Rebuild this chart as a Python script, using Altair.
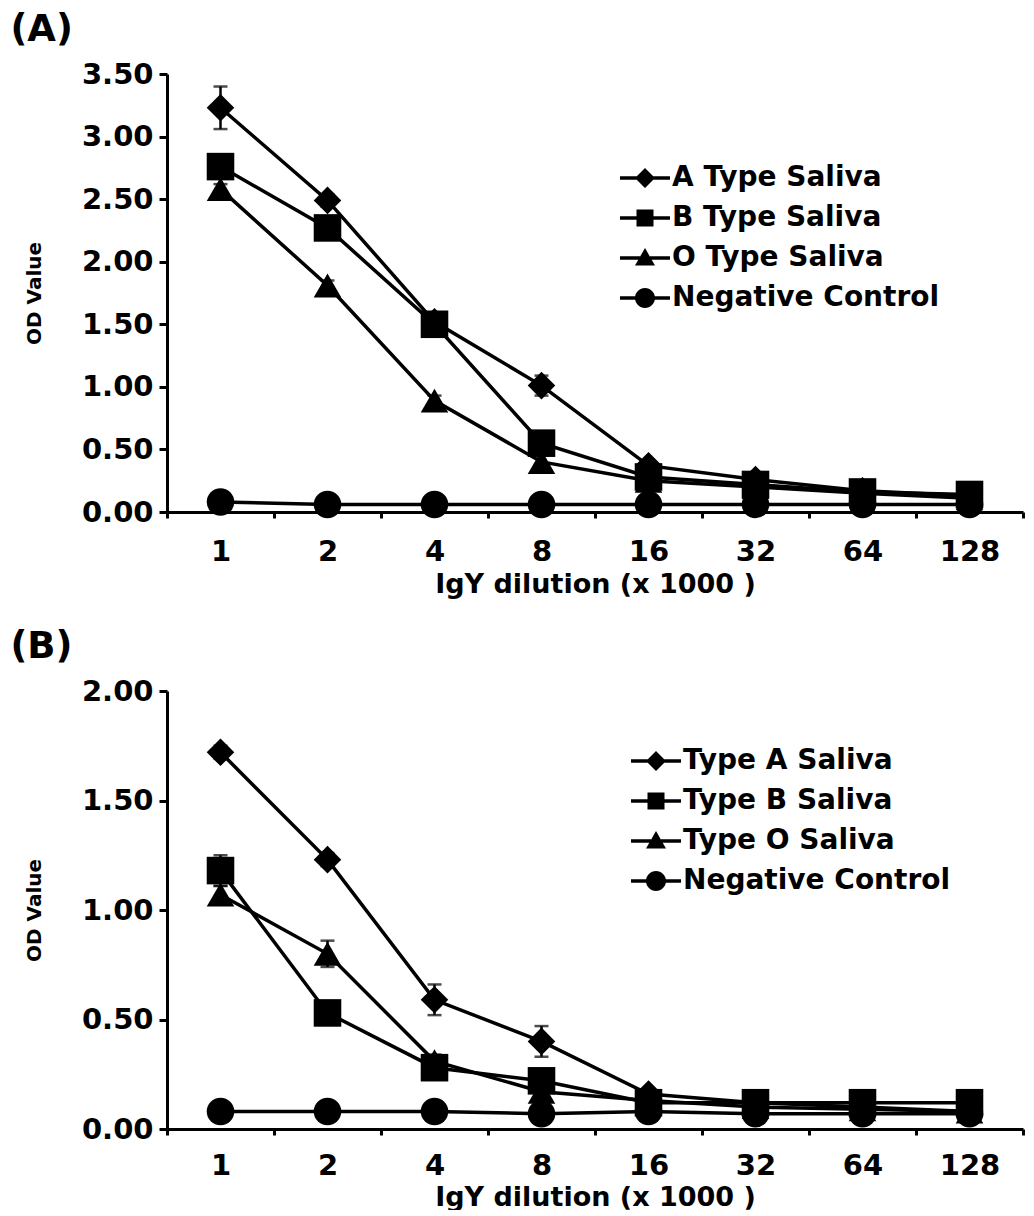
import altair as alt
import pandas as pd

dilutions = ["1", "2", "4", "8", "16", "32", "64", "128"]

# Panel A
a_names = ["A Type Saliva", "B Type Saliva", "O Type Saliva", "Negative Control"]
a_typeA = [3.23, 2.49, 1.52, 1.01, 0.37, 0.26, 0.17, 0.13]
a_typeB = [2.76, 2.27, 1.50, 0.55, 0.28, 0.22, 0.16, 0.14]
a_typeO = [2.58, 1.81, 0.89, 0.40, 0.25, 0.20, 0.15, 0.11]
a_neg = [0.08, 0.06, 0.06, 0.06, 0.06, 0.06, 0.06, 0.06]
a_errA = [0.17, 0.05, 0.04, 0.08, 0.03, 0.02, 0.02, 0.02]
a_errB = [0.04, 0.04, 0.03, 0.03, 0.02, 0.02, 0.02, 0.02]
a_errO = [0.04, 0.04, 0.04, 0.05, 0.02, 0.02, 0.02, 0.02]
a_errN = [0.01, 0.01, 0.01, 0.01, 0.01, 0.01, 0.01, 0.01]

# Panel B
b_names = ["Type A Saliva", "Type B Saliva", "Type O Saliva", "Negative Control"]
b_typeA = [1.72, 1.23, 0.59, 0.40, 0.16, 0.12, 0.10, 0.08]
b_typeB = [1.18, 0.53, 0.28, 0.22, 0.12, 0.12, 0.12, 0.12]
b_typeO = [1.07, 0.80, 0.31, 0.17, 0.13, 0.10, 0.09, 0.08]
b_neg = [0.08, 0.08, 0.08, 0.07, 0.08, 0.07, 0.07, 0.07]
b_errA = [0.03, 0.03, 0.07, 0.07, 0.02, 0.01, 0.01, 0.01]
b_errB = [0.07, 0.03, 0.03, 0.03, 0.01, 0.01, 0.01, 0.01]
b_errO = [0.04, 0.06, 0.03, 0.03, 0.01, 0.01, 0.01, 0.01]
b_errN = [0.01, 0.01, 0.01, 0.01, 0.01, 0.01, 0.01, 0.01]

a_ticks = [0, 0.5, 1.0, 1.5, 2.0, 2.5, 3.0, 3.5]
b_ticks = [0, 0.5, 1.0, 1.5, 2.0]

FONT = "DejaVu Sans"

plot_shapes = ["diamond", "square", "triangle-up", "circle"]
bar_l = "M-2.5,-0.18H-0.5V0.18H-2.5Z"
bar_r = "M0.5,-0.18H2.5V0.18H0.5Z"
legend_shapes = [
    bar_l + bar_r + "M-1,0L0,-1L1,0L0,1Z",
    bar_l + bar_r + "M-0.85,-0.85H0.85V0.85H-0.85Z",
    bar_l + bar_r + "M0,-1L1,0.75H-1Z",
    bar_l + bar_r + "M-1,0A1,1,0,1,1,1,0A1,1,0,1,1,-1,0Z",
]


def build_df(names, vals, errs):
    rows = []
    for name, v, e in zip(names, vals, errs):
        for d, vv, ee in zip(dilutions, v, e):
            rows.append({"series": name, "leg": name, "dil": d, "val": vv,
                         "lo": vv - ee, "hi": vv + ee})
    return pd.DataFrame(rows)


def panel(df, names, title, ymax, ticks, lx, ly, label_pad, title_pad):
    xscale = alt.Scale(type="band", paddingInner=0, paddingOuter=0)
    xaxis = alt.Axis(title="IgY dilution (x 1000 )", labelAngle=0, tickBand="extent",
                     tickSize=6, tickWidth=3, labelPadding=label_pad, titlePadding=title_pad,
                     labelFontSize=29, titleFontSize=27, domainWidth=3)
    yscale = alt.Scale(domain=[0, ymax], nice=False)
    yaxis = alt.Axis(title="OD Value", values=ticks, format=".2f", tickSize=8, tickWidth=3,
                     labelPadding=6, titlePadding=37, labelFontSize=29, titleFontSize=20,
                     domainWidth=3)
    x = alt.X("dil:O", sort=dilutions, scale=xscale, axis=xaxis)

    base = alt.Chart(df)
    lines = base.mark_line(color="black", strokeWidth=3.5).encode(
        x=x, y=alt.Y("val:Q", scale=yscale, axis=yaxis), detail="series:N")
    rules = base.mark_rule(color="black", strokeWidth=2.5).encode(
        x=x, y=alt.Y("lo:Q", scale=yscale, axis=yaxis), y2="hi:Q")
    cap_lo = base.mark_tick(color="black", thickness=2.5, size=14).encode(
        x=x, y=alt.Y("lo:Q", scale=yscale, axis=yaxis))
    cap_hi = base.mark_tick(color="black", thickness=2.5, size=14).encode(
        x=x, y=alt.Y("hi:Q", scale=yscale, axis=yaxis))
    pts = base.mark_point(filled=True, color="black", opacity=1, size=760).encode(
        x=x, y=alt.Y("val:Q", scale=yscale, axis=yaxis),
        shape=alt.Shape("series:N", scale=alt.Scale(domain=names, range=plot_shapes),
                        legend=None))
    leg = base.mark_point(filled=True, color="black", opacity=0, size=400).encode(
        x=x, y=alt.Y("val:Q", scale=yscale, axis=yaxis),
        shape=alt.Shape("leg:N", scale=alt.Scale(domain=names, range=legend_shapes),
                        legend=alt.Legend(title=None, orient="none", legendX=lx, legendY=ly,
                                          symbolSize=400, symbolOpacity=1,
                                          symbolFillColor="black", symbolStrokeWidth=0,
                                          labelFont=FONT, labelFontWeight="bold",
                                          labelFontSize=28, labelColor="black",
                                          labelOffset=13, rowPadding=12, padding=0,
                                          labelLimit=400)))
    return alt.layer(lines, rules, cap_lo, cap_hi, pts, leg).resolve_scale(
        shape="independent").properties(
        width=856, height=438,
        title=alt.TitleParams(text=title, anchor="start", frame="bounds", fontSize=37,
                              font=FONT, fontWeight="bold", color="black", dx=-14,
                              offset=11))


dfA = build_df(a_names, [a_typeA, a_typeB, a_typeO, a_neg], [a_errA, a_errB, a_errO, a_errN])
dfB = build_df(b_names, [b_typeA, b_typeB, b_typeO, b_neg], [b_errA, b_errB, b_errO, b_errN])

pA = panel(dfA, a_names, "(A)", 3.5, a_ticks, 464, 90, 19, 5)
pB = panel(dfB, b_names, "(B)", 2.0, b_ticks, 475, 56, 16, 4)

chart = alt.vconcat(pA, pB, spacing=31).resolve_scale(
    y="independent", shape="independent").resolve_legend(shape="independent").properties(
    padding={"left": 2, "top": 3, "right": 0, "bottom": 0}
).configure_axis(
    labelFont=FONT, labelFontWeight="bold", labelColor="black",
    titleFont=FONT, titleFontWeight="bold", titleColor="black",
    domainColor="black", tickColor="black", grid=False
).configure_view(stroke=None)

chart.save("out.html", embed_options={"renderer": "svg", "actions": False})
